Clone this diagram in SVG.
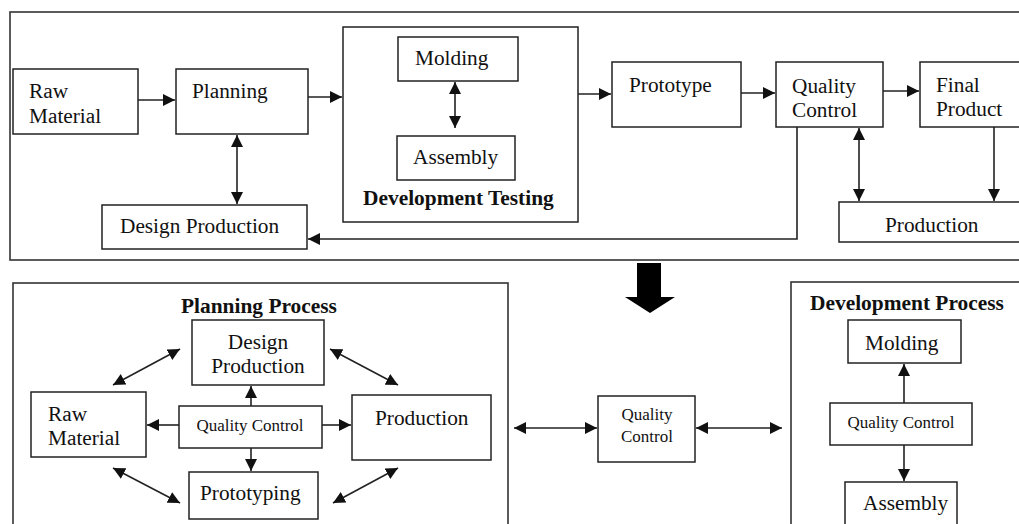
<svg xmlns="http://www.w3.org/2000/svg" width="1019" height="524" viewBox="0 0 1019 524">
<style>
.box{fill:#fff;stroke:#222;stroke-width:1.5}
.frame{fill:none;stroke:#333;stroke-width:1.6}
.t{font-family:"Liberation Serif","Times New Roman",serif;font-size:21.3px;fill:#111}
.s{font-family:"Liberation Serif","Times New Roman",serif;font-size:17px;fill:#111}
.b{font-family:"Liberation Serif","Times New Roman",serif;font-size:21.4px;font-weight:bold;fill:#111}
.c{fill:none;stroke:#222;stroke-width:1.6}
</style>
<defs>
<marker id="ah" markerUnits="userSpaceOnUse" viewBox="0 0 10 10" refX="10" refY="5" markerWidth="12" markerHeight="12" orient="auto-start-reverse">
<path d="M0,0 L10,5 L0,10 z" fill="#111"/>
</marker>
</defs>
<rect width="1019" height="524" fill="#fff"/>

<g id="top-frame"><rect class="frame" x="10" y="12" width="1020" height="248"/></g>
<g id="bottom-left-frame"><rect class="frame" x="13" y="283" width="495" height="260"/></g>
<g id="bottom-right-frame"><rect class="frame" x="791" y="282" width="240" height="260"/></g>

<g id="raw-material-top"><rect class="box" x="13" y="69" width="125" height="65"/><text class="t" x="29" y="98">Raw</text><text class="t" x="29" y="123">Material</text></g>
<g id="planning-top"><rect class="box" x="176" y="69" width="132" height="65"/><text class="t" x="192" y="98">Planning</text></g>
<g id="design-production-top"><rect class="box" x="102" y="205" width="205" height="44"/><text class="t" x="120" y="233">Design Production</text></g>
<g id="development-testing"><rect class="box" x="343" y="27" width="235" height="195"/><text class="b" x="363" y="205">Development Testing</text></g>
<g id="molding-top"><rect class="box" x="398" y="37" width="120" height="44"/><text class="t" x="415" y="65">Molding</text></g>
<g id="assembly-top"><rect class="box" x="397" y="136" width="118" height="44"/><text class="t" x="413" y="164">Assembly</text></g>
<g id="prototype-top"><rect class="box" x="612" y="62" width="129" height="65"/><text class="t" x="629" y="92">Prototype</text></g>
<g id="quality-control-top"><rect class="box" x="776" y="62" width="107" height="65"/><text class="t" x="792" y="93">Quality</text><text class="t" x="792" y="117">Control</text></g>
<g id="final-product"><rect class="box" x="920" y="62" width="110" height="65"/><text class="t" x="936" y="92">Final</text><text class="t" x="936" y="116">Product</text></g>
<g id="production-top"><rect class="box" x="839" y="202" width="190" height="40"/><text class="t" x="885" y="232">Production</text></g>

<g id="planning-process-title"><text class="b" x="181" y="313">Planning Process</text></g>
<g id="design-production-bottom"><rect class="box" x="192" y="320" width="132" height="65"/><text class="t" x="258" y="349" text-anchor="middle">Design</text><text class="t" x="258" y="373" text-anchor="middle">Production</text></g>
<g id="raw-material-bottom"><rect class="box" x="31" y="392" width="115" height="65"/><text class="t" x="48" y="421">Raw</text><text class="t" x="48" y="445">Material</text></g>
<g id="quality-control-center"><rect class="box" x="179" y="406" width="143" height="42"/><text class="s" x="250" y="431" text-anchor="middle">Quality Control</text></g>
<g id="production-bottom"><rect class="box" x="352" y="395" width="139" height="65"/><text class="t" x="375" y="425">Production</text></g>
<g id="prototyping"><rect class="box" x="189" y="472" width="129" height="47"/><text class="t" x="200" y="500">Prototyping</text></g>

<g id="quality-control-middle"><rect class="box" x="598" y="396" width="97" height="66"/><text class="s" x="647" y="420" text-anchor="middle">Quality</text><text class="s" x="647" y="442" text-anchor="middle">Control</text></g>

<g id="development-process-title"><text class="b" x="810" y="310">Development Process</text></g>
<g id="molding-bottom"><rect class="box" x="848" y="320" width="113" height="43"/><text class="t" x="865" y="350">Molding</text></g>
<g id="quality-control-dev"><rect class="box" x="830" y="403" width="142" height="42"/><text class="s" x="901" y="428" text-anchor="middle">Quality Control</text></g>
<g id="assembly-bottom"><rect class="box" x="845" y="482" width="112" height="60"/><text class="t" x="863" y="510">Assembly</text></g>

<g id="big-arrow"><path d="M637,263 L661,263 L661,297 L675,297 L650,313 L625,297 L637,297 z" fill="#000"/></g>

<g id="connectors">
<line class="c" x1="138" y1="100" x2="175" y2="100" marker-end="url(#ah)"/>
<line class="c" x1="308" y1="97" x2="342" y2="97" marker-end="url(#ah)"/>
<line class="c" x1="237" y1="135" x2="237" y2="204" marker-start="url(#ah)" marker-end="url(#ah)"/>
<line class="c" x1="455" y1="82" x2="455" y2="128" marker-start="url(#ah)" marker-end="url(#ah)"/>
<line class="c" x1="578" y1="94" x2="611" y2="94" marker-end="url(#ah)"/>
<line class="c" x1="741" y1="93" x2="775" y2="93" marker-end="url(#ah)"/>
<line class="c" x1="883" y1="91" x2="919" y2="91" marker-end="url(#ah)"/>
<polyline class="c" points="797,127 797,239 308,239" marker-end="url(#ah)"/>
<line class="c" x1="859" y1="128" x2="859" y2="201" marker-start="url(#ah)" marker-end="url(#ah)"/>
<line class="c" x1="994" y1="127" x2="994" y2="201" marker-end="url(#ah)"/>

<line class="c" x1="179" y1="425" x2="147" y2="425" marker-end="url(#ah)"/>
<line class="c" x1="322" y1="425" x2="351" y2="425" marker-end="url(#ah)"/>
<line class="c" x1="251" y1="406" x2="251" y2="386" marker-end="url(#ah)"/>
<line class="c" x1="251" y1="448" x2="251" y2="471" marker-end="url(#ah)"/>
<line class="c" x1="113" y1="385" x2="180" y2="349" marker-start="url(#ah)" marker-end="url(#ah)"/>
<line class="c" x1="330" y1="349" x2="398" y2="385" marker-start="url(#ah)" marker-end="url(#ah)"/>
<line class="c" x1="113" y1="468" x2="180" y2="503" marker-start="url(#ah)" marker-end="url(#ah)"/>
<line class="c" x1="333" y1="503" x2="398" y2="468" marker-start="url(#ah)" marker-end="url(#ah)"/>

<line class="c" x1="514" y1="428" x2="597" y2="428" marker-start="url(#ah)" marker-end="url(#ah)"/>
<line class="c" x1="696" y1="428" x2="782" y2="428" marker-start="url(#ah)" marker-end="url(#ah)"/>
<line class="c" x1="904" y1="403" x2="904" y2="364" marker-end="url(#ah)"/>
<line class="c" x1="904" y1="445" x2="904" y2="481" marker-end="url(#ah)"/>
</g>
</svg>
